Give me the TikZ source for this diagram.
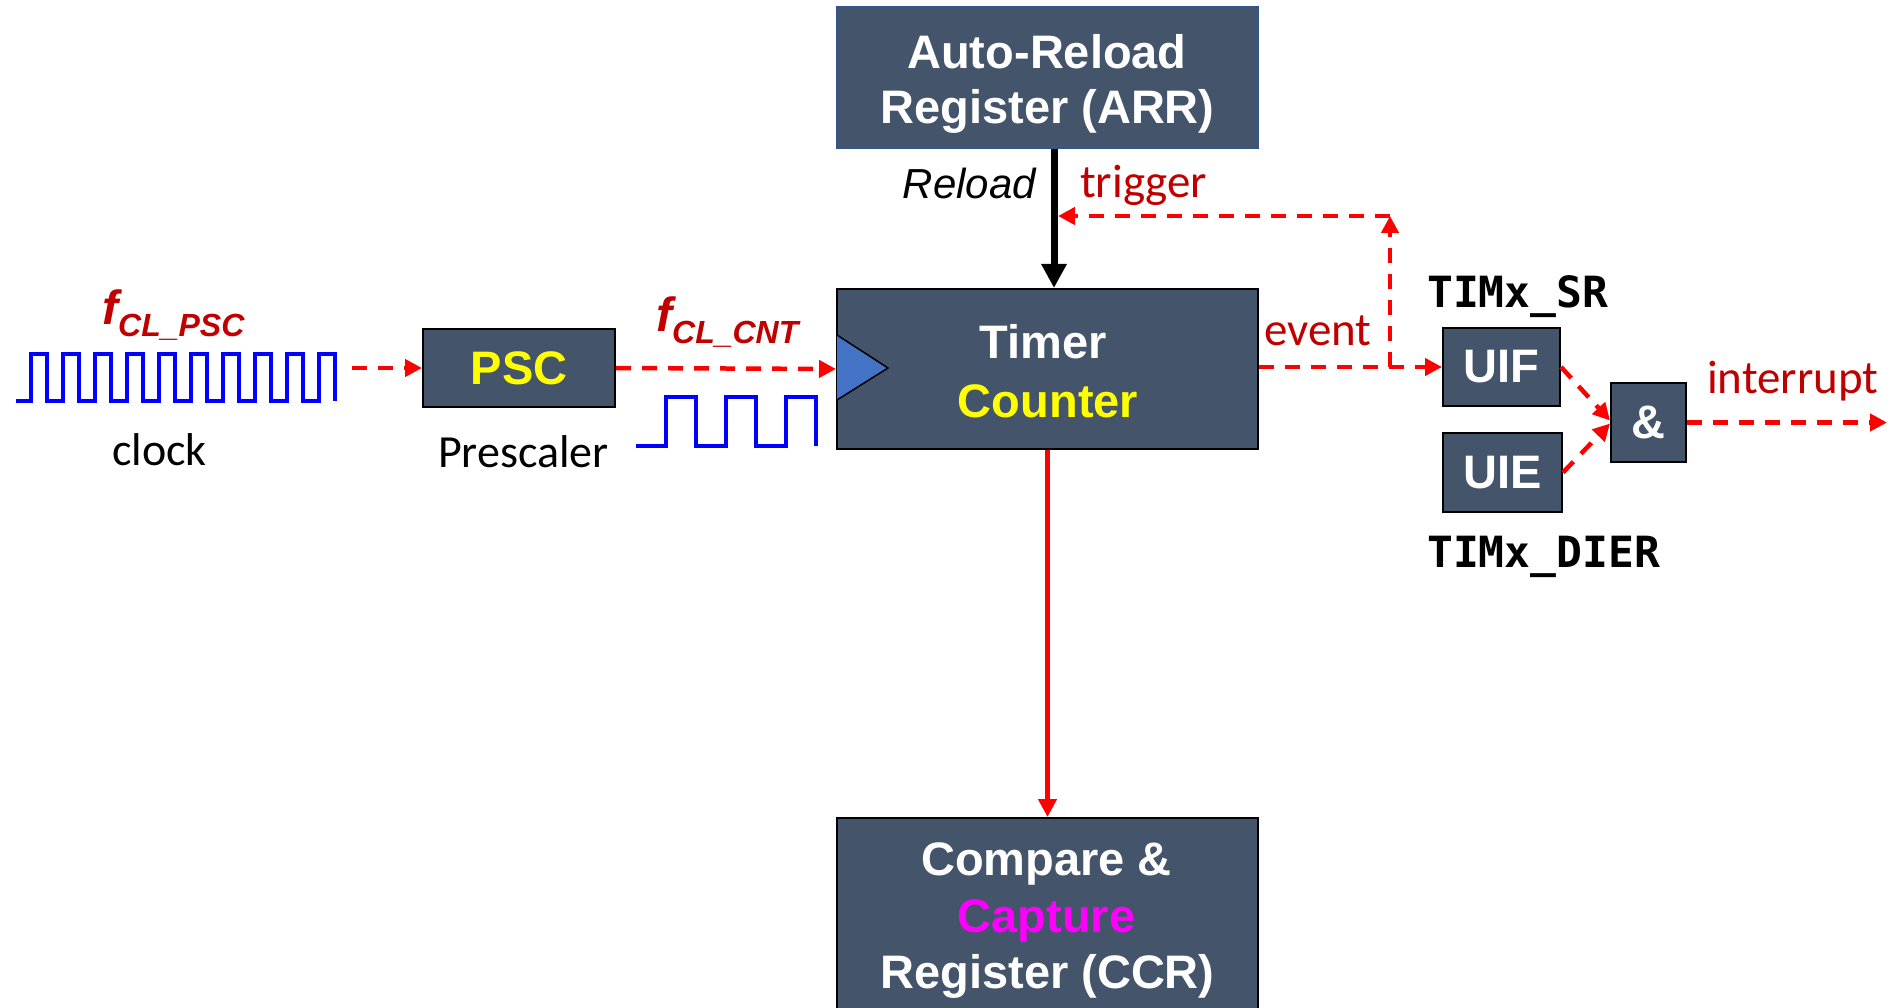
\documentclass[tikz,border=0pt]{standalone}
\usepackage{fontspec}
\setmainfont{Liberation Sans}
\newfontfamily\calfnt{Carlito}
\newfontfamily\monofnt{DejaVu Sans Mono}
\usetikzlibrary{arrows.meta}
\definecolor{boxfill}{HTML}{44546A}
\definecolor{darkred}{HTML}{C00000}
\definecolor{clkblue}{HTML}{0000FF}
\definecolor{trifill}{HTML}{4472C4}
\definecolor{arrborder}{HTML}{2F5597}
\definecolor{yel}{HTML}{FFFF00}
\definecolor{mag}{HTML}{FF00FF}
\begin{document}
\begin{tikzpicture}[x=1pt,y=-1pt,
  blk/.style={draw=black, line width=2pt, fill=boxfill, text=white, inner sep=0pt, align=center,
              font=\fontsize{47}{57}\selectfont\bfseries},
  wt/.style={text=white, inner sep=0pt, anchor=base, font=\fontsize{47}{57}\selectfont\bfseries},
  rdash/.style={red, line width=4.5pt, dash pattern=on 15pt off 11pt, -{Triangle[length=17pt,width=17pt]}},
  lbl/.style={text=darkred, inner sep=0pt, anchor=base west, font=\calfnt\fontsize{47}{57}\selectfont},
  blbl/.style={text=black, inner sep=0pt, anchor=base, font=\calfnt\fontsize{46}{56}\selectfont},
  reg/.style={text=black, inner sep=0pt, anchor=base west, font=\monofnt\bfseries\fontsize{43}{50}\selectfont},
  freq/.style={text=darkred, inner sep=0pt, anchor=base west, font=\bfseries\itshape\fontsize{48}{56}\selectfont},
  clk/.style={clkblue, line width=3.5pt, line join=miter}
]
\useasboundingbox (0,0) rectangle (1893,1008);
\clip (0,0) rectangle (1893,1008);

% boxes
\node[blk, draw=arrborder, minimum width=421pt, minimum height=141pt] (arr) at (1047.5,77.5) {};
\node[wt] (arr1) at (1047,69) {Auto-Reload};
\node[wt] (arr2) at (1047.5,124) {Register (ARR)};

\node[blk, minimum width=421pt, minimum height=160pt] (timer) at (1047.5,369) {};
\node[wt] (tim1) at (1043,358) {Timer};
\node[wt, text=yel] (tim2) at (1048,417) {Counter};

\node[blk, minimum width=421pt, minimum height=230pt] (ccr) at (1047.5,933) {};
\node[wt] (ccr1) at (1046.5,875) {Compare \&};
\node[wt, text=mag] (ccr2) at (1046.5,932) {Capture};
\node[wt] (ccr3) at (1047.5,988) {Register (CCR)};

\node[blk, text=yel, minimum width=192pt, minimum height=78pt] (psc) at (519,368) {PSC};
\node[blk, minimum width=117pt, minimum height=78pt] (uif) at (1501.5,367) {UIF};
\node[blk, minimum width=119pt, minimum height=79pt] (uie) at (1502.5,472.5) {UIE};
\node[blk, minimum width=75pt, minimum height=79pt] (and) at (1648.5,422.5) {\&};

% clock input triangle
\draw[fill=trifill, line width=1.5pt, line join=miter] (837,335) -- (888,368) -- (837,400);

% waveforms
\draw[clk] (16,401) \foreach \i in {0,...,9}{ -- (31+32*\i,401) -- (31+32*\i,354) -- (47+32*\i,354) -- (47+32*\i,401)};
\draw[clk] (636,446) -- (666,446) -- (666,397) -- (696,397) -- (696,446) -- (726,446) -- (726,397)
  -- (756,397) -- (756,446) -- (786,446) -- (786,397) -- (816,397) -- (816,446);

% labels
\node[freq] (fpsc) at (102,325) {f\raisebox{-12pt}{\fontsize{32}{32}\selectfont CL\_PSC}};
\node[freq] (fcnt) at (656,332) {f\raisebox{-11pt}{\fontsize{32}{32}\selectfont CL\_CNT}};
\node[blbl] (clock) at (159.5,465) {clock};
\node[blbl] (presc) at (523.5,467) {Prescaler};
\node[text=black, inner sep=0pt, anchor=base, font=\itshape\fontsize{42}{50}\selectfont] (reload) at (969.5,199) {Reload};
\node[lbl] (trig) at (1080,198) {trigger};
\node[lbl] (event) at (1264,345) {event};
\node[lbl] (intl) at (1707,393) {interrupt};
\node[reg] (sr) at (1427,308) {TIMx\_SR};
\node[reg] (dier) at (1427,567) {TIMx\_DIER};

% connectors
\coordinate (clkout) at (352,368);
\coordinate (trg) at (1390,216);
\coordinate (rl) at (1058,216);
\coordinate (intr) at (1887,422.5);

\draw[rdash] (clkout) -- (psc.west);
\draw[rdash] (psc.east) -- (timer.west);
\draw[line width=7pt, -{Triangle[length=24pt,width=24pt]}] ([xshift=6.5pt]arr.south) -- ([xshift=6.5pt]timer.north);
\draw[rdash] (timer.east |- uif.west) -- (uif.west);
\draw[rdash] (trg |- uif.west) -- (trg);
\draw[rdash] (trg) -- (rl);
\draw[red, line width=4.5pt, -{Triangle[length=18pt,width=18pt]}] (timer.south) -- (ccr.north);
\draw[rdash] (uif.east) -- ([yshift=2pt]and.west);
\draw[rdash] (uie.east) -- ([yshift=-1pt]and.west);
\draw[rdash] (and.east) -- (intr);
\end{tikzpicture}
\end{document}
